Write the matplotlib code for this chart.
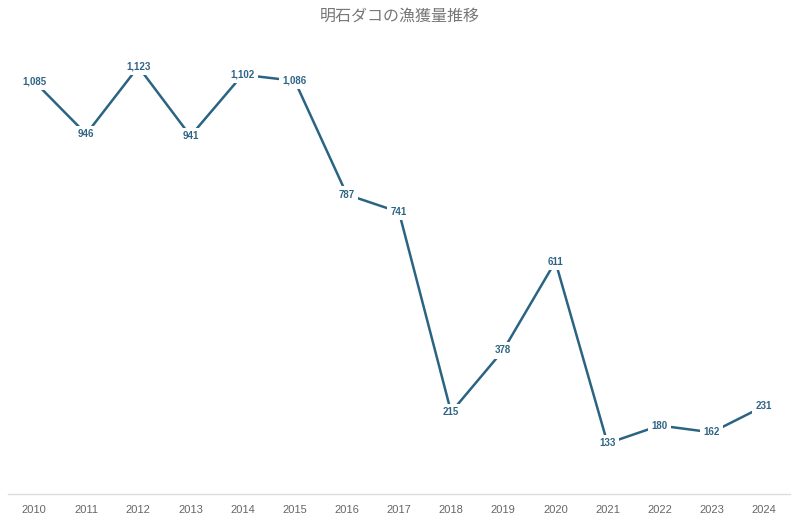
import matplotlib.pyplot as plt

years = [str(y) for y in range(2010, 2025)]
catch = [1085, 946, 1123, 941, 1102, 1086, 787, 741, 215, 378, 611, 133, 180, 162, 231]

plt.rcParams['font.family'] = ['Noto Sans CJK JP', 'DejaVu Sans']

fig = plt.figure(figsize=(8, 5.2), dpi=100)
ax = fig.add_axes([0.01, 0.05, 0.9775, 0.878])

x = list(range(len(years)))
ax.plot(x, catch, color='#2b6483', linewidth=1.8, solid_capstyle='butt')

# value labels sit on the points, white box breaks the line
for xi, v in zip(x, catch):
    ax.text(xi, v, f'{v:,}', ha='center', va='center', fontsize=7,
            fontweight='bold', color='#2f6584', family=['Liberation Sans', 'DejaVu Sans'],
            bbox=dict(boxstyle='square,pad=0.35', fc='white', ec='none'))

ax.set_xlim(-0.5, len(years) - 0.5)
ax.set_ylim(0, 1200)
ax.set_xticks(x)
ax.set_xticklabels(years, fontsize=8, color='#666666', family=['Liberation Sans', 'DejaVu Sans'])
ax.tick_params(axis='x', length=0, pad=8)
ax.set_yticks([])
for s in ['top', 'right', 'left']:
    ax.spines[s].set_visible(False)
ax.spines['bottom'].set_color('#dddddd')
ax.spines['bottom'].set_linewidth(1)

fig.suptitle('明石ダコの漁獲量推移', y=0.985, fontsize=11.5, color='#777777')

fig.savefig('out.png', dpi=100, facecolor='white')
